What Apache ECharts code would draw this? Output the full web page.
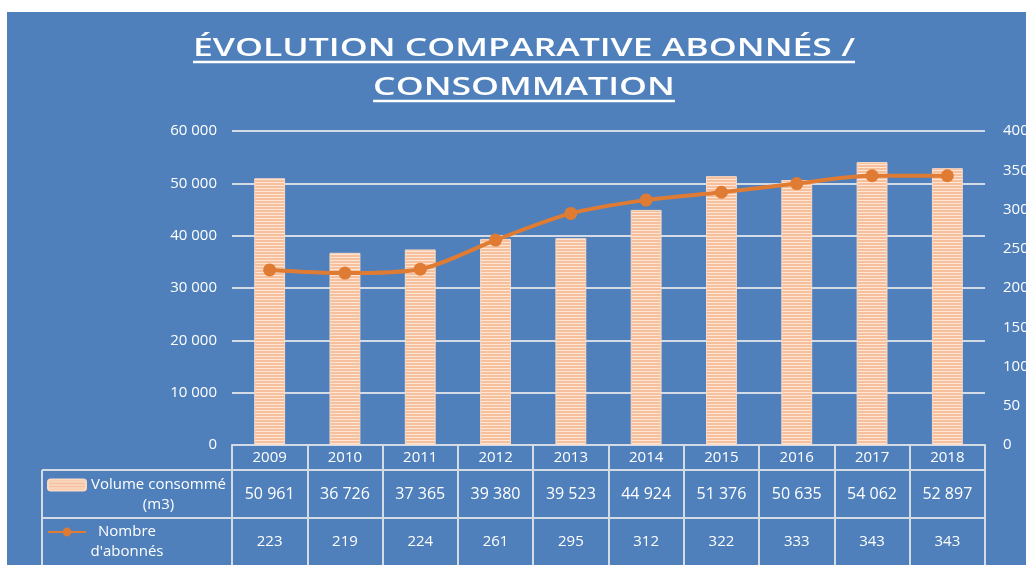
<!DOCTYPE html>
<html>
<head>
<meta charset="utf-8">
<script src="https://cdn.jsdelivr.net/npm/echarts/dist/echarts.min.js"></script>
<style>
  html, body { margin: 0; padding: 0; background: #ffffff; width: 1026px; height: 565px; overflow: hidden; }
  #chart { position: absolute; left: 7px; top: 12px; width: 1019px; height: 553px; }
</style>
</head>
<body>
<div id="chart"></div>
<script>
// ---- data ----
const years = ['2009', '2010', '2011', '2012', '2013', '2014', '2015', '2016', '2017', '2018'];
const volumes = [50961, 36726, 37365, 39380, 39523, 44924, 51376, 50635, 54062, 52897];
const subscribers = [223, 219, 224, 261, 295, 312, 322, 333, 343, 343];
const volumeAxis = { min: 0, max: 60000, interval: 10000 };
const subscriberAxis = { min: 0, max: 400, interval: 50 };
const titleLines = ['ÉVOLUTION COMPARATIVE ABONNÉS /', 'CONSOMMATION'];
const volumeName = 'Volume consommé\n(m3)';
const subscriberName = "Nombre\nd'abonnés";

// ---- helpers ----
const groupThousands = n => String(n).replace(/\B(?=(\d{3})+(?!\d))/g, ' ');

// striped fill for the bars
function stripePattern() {
  const c = document.createElement('canvas');
  c.width = 4; c.height = 3;
  const g = c.getContext('2d');
  g.fillStyle = '#f6c09c';
  g.fillRect(0, 0, 4, 2);
  g.fillStyle = '#fde6d6';
  g.fillRect(0, 2, 4, 1);
  return c;
}

const WHITE = '#ffffff';
const RULE = '#d3dbe6';
const ORANGE = '#e07b33';
const FONT = '"Open Sans", "DejaVu Sans", sans-serif';

// title is stretched a little to get the wide, spaced look
const titleFont = '600 26px ' + FONT;
const meas = document.createElement('canvas').getContext('2d');
meas.font = titleFont;
const titleTargetWidth = 662;
const w1 = meas.measureText(titleLines[0]).width;
const sx = titleTargetWidth / w1;
const w2 = meas.measureText(titleLines[1]).width * sx;
const cx = 517;

const chart = echarts.init(document.getElementById('chart'), null, { renderer: 'canvas' });
const pattern = { image: stripePattern(), repeat: 'repeat' };

// legend cells of the data table: icon sits on the first text line
function legendCell(name, top, boxWidth) {
  return {
    orient: 'vertical',
    left: 40,
    top: top,
    padding: 0,
    itemWidth: 38,
    itemHeight: 11,
    selectedMode: false,
    data: [name],
    formatter: n => n.split('\n').map(s => '{c|' + s + '}').join('\n'),
    textStyle: {
      color: WHITE,
      fontSize: 15,
      lineHeight: 20,
      padding: [20, 0, 0, 0],
      rich: {
        c: { width: boxWidth, align: 'center', color: WHITE, fontSize: 15, lineHeight: 20, fontFamily: FONT }
      }
    }
  };
}

const option = {
  backgroundColor: '#4f80bb',
  animation: false,
  textStyle: { fontFamily: FONT },
  grid: { left: 225, right: 41, top: 119, bottom: 120, containLabel: false, outerBoundsMode: 'none' },
  legend: [
    legendCell(volumeName, 443, 135),
    legendCell(subscriberName, 490, 72)
  ],
  xAxis: [
    {
      type: 'category',
      data: years,
      position: 'bottom',
      axisLine: { show: true, lineStyle: { color: RULE, width: 2 } },
      axisTick: { show: true, alignWithLabel: false, interval: 0, length: 120, lineStyle: { color: RULE, width: 2 } },
      axisLabel: { color: WHITE, fontSize: 15, margin: 13, verticalAlign: 'middle', interval: 0, fontFamily: FONT },
      splitLine: { show: false }
    },
    {
      type: 'category',
      data: volumes.map(groupThousands),
      position: 'bottom',
      axisLine: { show: false },
      axisTick: { show: false },
      axisLabel: { color: WHITE, fontSize: 16, margin: 49, verticalAlign: 'middle', interval: 0, fontFamily: FONT },
      splitLine: { show: false }
    },
    {
      type: 'category',
      data: subscribers.map(String),
      position: 'bottom',
      axisLine: { show: false },
      axisTick: { show: false },
      axisLabel: { color: WHITE, fontSize: 15, margin: 97, verticalAlign: 'middle', interval: 0, fontFamily: FONT },
      splitLine: { show: false }
    }
  ],
  yAxis: [
    {
      type: 'value',
      position: 'left',
      min: volumeAxis.min, max: volumeAxis.max, interval: volumeAxis.interval,
      axisLine: { show: false },
      axisTick: { show: false },
      axisLabel: { color: WHITE, fontSize: 15, margin: 15, formatter: v => groupThousands(v), fontFamily: FONT },
      splitLine: { show: true, lineStyle: { color: RULE, width: 2 } }
    },
    {
      type: 'value',
      position: 'right',
      min: subscriberAxis.min, max: subscriberAxis.max, interval: subscriberAxis.interval,
      axisLine: { show: false },
      axisTick: { show: false },
      axisLabel: { color: WHITE, fontSize: 15, margin: 18, fontFamily: FONT },
      splitLine: { show: false }
    }
  ],
  series: [
    {
      name: volumeName,
      type: 'bar',
      xAxisIndex: 0,
      yAxisIndex: 0,
      data: volumes,
      barWidth: '41%',
      itemStyle: { color: pattern, borderColor: '#fbd9c4', borderWidth: 1 },
      z: 2
    },
    {
      name: subscriberName,
      type: 'line',
      xAxisIndex: 0,
      yAxisIndex: 1,
      data: subscribers,
      smooth: 0.3,
      symbol: 'circle',
      symbolSize: 13,
      lineStyle: { color: ORANGE, width: 4 },
      itemStyle: { color: ORANGE },
      z: 3
    }
  ],
  graphic: [
    // title, two underlined lines
    { type: 'text', x: cx, y: 37, scaleX: sx, silent: true,
      style: { text: titleLines[0], font: titleFont, fill: WHITE, textAlign: 'center', textVerticalAlign: 'middle' } },
    { type: 'line', silent: true,
      shape: { x1: cx - w1 * sx / 2, y1: 50, x2: cx + w1 * sx / 2, y2: 50 },
      style: { stroke: WHITE, lineWidth: 2.5 } },
    { type: 'text', x: cx, y: 76, scaleX: sx, silent: true,
      style: { text: titleLines[1], font: titleFont, fill: WHITE, textAlign: 'center', textVerticalAlign: 'middle' } },
    { type: 'line', silent: true,
      shape: { x1: cx - w2 / 2, y1: 89, x2: cx + w2 / 2, y2: 89 },
      style: { stroke: WHITE, lineWidth: 2.5 } },
    // data table rules (rows under the year header, and the legend column)
    { type: 'line', silent: true, shape: { x1: 35, y1: 458, x2: 978, y2: 458 }, style: { stroke: RULE, lineWidth: 2 } },
    { type: 'line', silent: true, shape: { x1: 35, y1: 506, x2: 978, y2: 506 }, style: { stroke: RULE, lineWidth: 2 } },
    { type: 'line', silent: true, shape: { x1: 35, y1: 458, x2: 35, y2: 553 }, style: { stroke: RULE, lineWidth: 2 } }
  ]
};

chart.setOption(option);
</script>
</body>
</html>
